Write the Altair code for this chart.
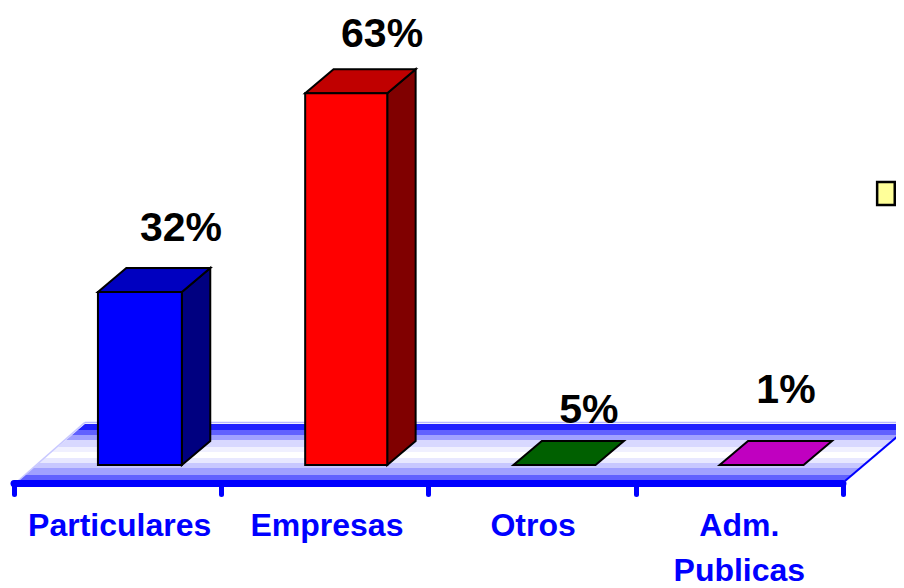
import altair as alt
import pandas as pd

# --- values
categories = ["Particulares", "Empresas", "Otros", ["Adm.", "Publicas"]]
values = [32, 63, 5, 1]
front_colors = ["#0000ff", "#ff0000", "#008000", "#ff00ff"]
top_colors = ["#0000c0", "#c00000", "#006000", "#c000c0"]
side_colors = ["#000080", "#800000", "#004000", "#800080"]
value_label_x = [0.806, 1.776, 2.774, 3.725]
value_label_y = [40.0, 70.2, 11.6, 14.7]
category_label_x = [0.51, 1.51, 2.505, 3.50]

# --- chart geometry, in axis units
BASE = 5            # the value axis starts at 5, so smaller bars are flat
X_DOMAIN = [-0.029, 4.256]
Y_DOMAIN = [-14.19, 76.3]
BAR_LEFT = [0.405, 0.405, 0.41, 0.405]
BAR_W = [0.405, 0.396, 0.396, 0.405]
DX, DY = 0.137, 3.74
FLOOR_L, FLOOR_R = 0.019, 4.01
FLOOR_DX, FLOOR_FRONT, FLOOR_BACK = 0.323, 2.5, 11.4
AXIS_Y = 2.11
FONT = "Liberation Sans"

x_s = alt.Scale(domain=X_DOMAIN, nice=False, zero=False)
y_s = alt.Scale(domain=Y_DOMAIN, nice=False, zero=False)
x_axis = alt.Axis(values=[0, 1, 2, 3, 4], title=None, labels=False, grid=False, offset=-104,
                  domain=False, tickColor="#0000ff", tickWidth=5, tickSize=10, tickCap="round", zindex=1)
X = lambda f="x": alt.X(f"{f}:Q", scale=x_s, axis=x_axis)
Y = lambda f="y": alt.Y(f"{f}:Q", scale=y_s, axis=None)

# bars
front, faces = [], []
for i, (v, fc, tc, sc) in enumerate(zip(values, front_colors, top_colors, side_colors)):
    a = i + BAR_LEFT[i]
    b = a + BAR_W[i]
    t = max(v, BASE)
    if t > BASE:
        front.append(dict(x=a, x2=b, y=t, y2=BASE, fill=fc))
        for xx, y1, y2 in [(b, BASE, t), (b + DX, BASE + DY, t + DY)]:
            faces.append(dict(face=f"s{i}", x=xx, y=y1, y2=y2, fill=sc))
    for xx, y1, y2 in [(a, t, t), (a + DX, t, t + DY), (b, t, t + DY), (b + DX, t + DY, t + DY)]:
        faces.append(dict(face=f"t{i}", x=xx, y=y1, y2=y2, fill=tc))
front = pd.DataFrame(front)
faces = pd.DataFrame(faces)

# floor
floor = pd.DataFrame([
    dict(x=FLOOR_L, y=FLOOR_FRONT, y2=FLOOR_FRONT),
    dict(x=FLOOR_L + FLOOR_DX, y=FLOOR_FRONT, y2=FLOOR_BACK),
    dict(x=FLOOR_R, y=FLOOR_FRONT, y2=FLOOR_BACK),
    dict(x=FLOOR_R + FLOOR_DX, y=FLOOR_BACK, y2=FLOOR_BACK),
])
bands = [("#2020ff", 0.10), ("#6060ff", 0.19), ("#a0a0ff", 0.28), ("#d8d8ff", 0.40),
         ("#f0f0ff", 0.49), ("#ffffff", 0.60), ("#e8e8ff", 0.68), ("#c8c8ff", 0.77),
         ("#a0a0ff", 0.89), ("#6060ff", 1.0)]
stops, prev = [], 0
for c, end in bands:
    stops += [alt.GradientStop(color=c, offset=prev), alt.GradientStop(color=c, offset=end)]
    prev = end
grad = alt.Gradient(gradient="linear", x1=0, x2=0, y1=0, y2=1, stops=stops)

floor_layer = alt.Chart(floor).mark_area(fill=grad, line=False, orient="vertical").encode(
    x=X(), y=Y(), y2="y2:Q")

edge_back = pd.DataFrame(dict(x=[FLOOR_L + FLOOR_DX, FLOOR_R + FLOOR_DX], y=[FLOOR_BACK + 0.25] * 2))
edge_left = pd.DataFrame(dict(x=[FLOOR_L, FLOOR_L + FLOOR_DX], y=[FLOOR_FRONT, FLOOR_BACK + 0.25]))
edge_right = pd.DataFrame(dict(x=[FLOOR_R, FLOOR_R + FLOOR_DX], y=[FLOOR_FRONT, FLOOR_BACK]))
axis_line = pd.DataFrame(dict(x=[0, 4], y=[AXIS_Y, AXIS_Y]))
e_back = alt.Chart(edge_back).mark_line(color="#b8b8ff", strokeWidth=1.5).encode(x=X(), y=Y())
e_left = alt.Chart(edge_left).mark_line(color="#c8c8ff", strokeWidth=1.5).encode(x=X(), y=Y())
e_right = alt.Chart(edge_right).mark_line(color="#0000ff", strokeWidth=2).encode(x=X(), y=Y())
a_line = alt.Chart(axis_line).mark_line(color="#0000ff", strokeWidth=7, strokeCap="round").encode(x=X(), y=Y())

face_layer = alt.Chart(faces).mark_area(stroke="#000000", strokeWidth=2, line=False, orient="vertical").encode(
    x=X(), y=Y(), y2="y2:Q", detail="face:N",
    fill=alt.Fill("fill:N", scale=None))
front_layer = alt.Chart(front).mark_rect(stroke="#000000", strokeWidth=2).encode(
    x=X(), x2="x2:Q", y=Y(), y2="y2:Q", fill=alt.Fill("fill:N", scale=None))

val_df = pd.DataFrame(dict(x=value_label_x, y=value_label_y, t=[f"{v}%" for v in values]))
val_text = alt.Chart(val_df).mark_text(
    font=FONT, fontWeight="bold", fontSize=41, color="#000000", align="center", baseline="alphabetic"
).encode(x=X(), y=Y(), text="t:N")

cat_df = pd.DataFrame(dict(x=category_label_x, y=[-6.0, -6.0, -6.0, -6.0],
                           t=["|".join(c) if isinstance(c, list) else c for c in categories]))
cat_text = alt.Chart(cat_df).mark_text(
    font=FONT, fontWeight="bold", fontSize=32, color="#0000ff", align="center", baseline="alphabetic",
    lineBreak="|", lineHeight=45
).encode(x=X(), y=Y(), text="t:N")

key_df = pd.DataFrame(dict(x=[4.165], x2=[4.25], y=[49.15], y2=[45.56]))
key = alt.Chart(key_df).mark_rect(fill="#ffff99", stroke="#000000", strokeWidth=2.5).encode(
    x=X(), x2="x2:Q", y=Y(), y2="y2:Q")

chart = alt.layer(floor_layer, e_back, e_left, e_right, a_line, face_layer, front_layer,
                  val_text, cat_text, key).properties(
    width=888, height=580, padding=0, autosize=alt.AutoSizeParams(type="none"),
    background="#ffffff"
).configure_view(stroke=None)

chart.save("out.html", embed_options={"renderer": "svg", "actions": False})
